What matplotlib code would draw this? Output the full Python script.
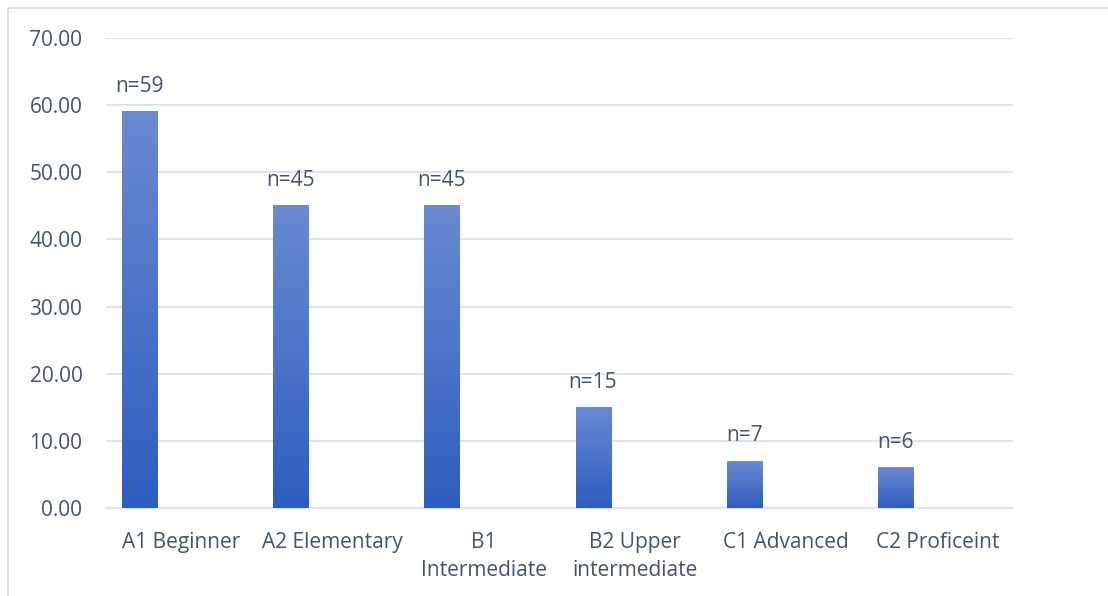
import numpy as np
import matplotlib
matplotlib.use("Agg")
import matplotlib.pyplot as plt
from matplotlib.colors import LinearSegmentedColormap
from matplotlib.patches import Rectangle

categories = ["A1 Beginner", "A2 Elementary", "B1\nIntermediate",
              "B2 Upper\nintermediate", "C1 Advanced", "C2 Proficeint"]
values = [59, 45, 45, 15, 7, 6]
labels = ["n=59", "n=45", "n=45", "n=15", "n=7", "n=6"]
yticks = [0, 10, 20, 30, 40, 50, 60, 70]

text_col = "#44546a"
grid_col = "#e0e4ea"

plt.rcParams["font.family"] = ["Open Sans", "DejaVu Sans"]

fig = plt.figure(figsize=(11.08, 5.96), dpi=100)
ax = fig.add_axes([106/1108, 1 - 508/596, (1013-106)/1108, (508-38)/596])

# outer chart border
fig.patches.append(Rectangle((8/1108, -0.1), 1.2, 1 - 8/596 + 0.1,
                             transform=fig.transFigure, fill=False,
                             edgecolor="#d9d9d9", lw=1.2))

cmap = LinearSegmentedColormap.from_list("bar", ["#2d5dbe", "#6a8ad2"])
grad = np.linspace(0, 1, 256).reshape(-1, 1)

x = np.arange(len(categories))
offset = 0.106
width = 0.232
for i, v in enumerate(values):
    left = x[i] + offset
    ax.imshow(grad, extent=(left, left + width, 0, v), origin="lower",
              cmap=cmap, aspect="auto", zorder=3)
    ax.text(left + width / 2, v + 2.2, labels[i], ha="center", va="bottom",
            fontsize=15, color=text_col, zorder=4)

ax.set_xlim(0, len(categories))
ax.set_ylim(0, 70)
ax.set_yticks(yticks)
ax.set_yticklabels(["%.2f" % t for t in yticks])
ax.set_xticks(x + 0.5)
ax.set_xticklabels(categories, linespacing=1.45)
ax.tick_params(axis="y", length=0, pad=17, labelsize=15, labelcolor=text_col)
ax.tick_params(axis="x", length=0, pad=17, labelsize=15, labelcolor=text_col)
ax.grid(axis="y", color=grid_col, lw=1.5, zorder=0)
for s in ["top", "right", "left"]:
    ax.spines[s].set_visible(False)
ax.spines["bottom"].set_color(grid_col)
ax.spines["bottom"].set_linewidth(1.5)

fig.savefig("out.png", dpi=100)
